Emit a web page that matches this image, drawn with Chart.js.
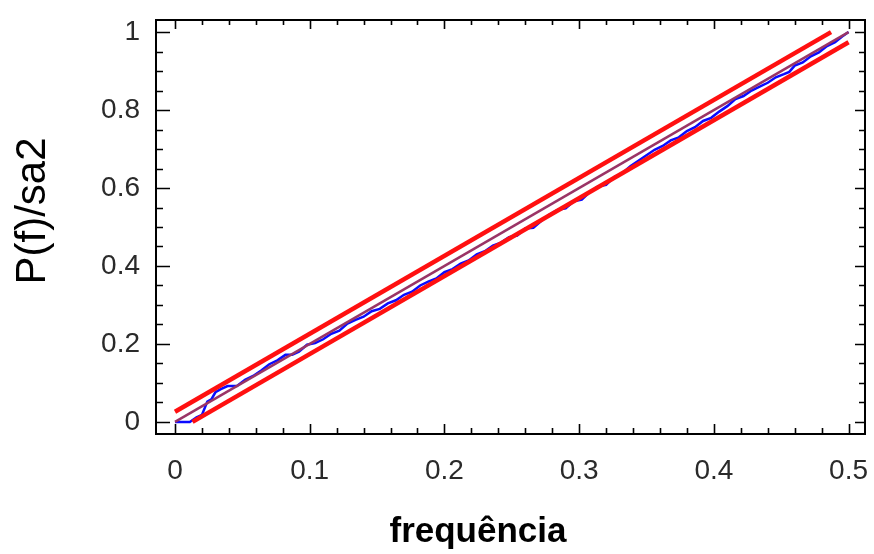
<!DOCTYPE html>
<html>
<head>
<meta charset="utf-8">
<script src="https://cdn.jsdelivr.net/npm/chart.js@4/dist/chart.umd.min.js"></script>
<style>
  html, body { margin: 0; padding: 0; background: #fff; }
  #wrap { width: 874px; height: 554px; }
</style>
</head>
<body>
<div id="wrap"><canvas id="c" width="874" height="554"></canvas></div>
<script>
// Cumulative periodogram of the residuals, P(f)/sa2 against frequency
const freq = [
  0.000, 0.006, 0.011, 0.016, 0.020, 0.024, 0.027, 0.030, 0.034, 0.039,
  0.046, 0.052, 0.058, 0.064, 0.070, 0.076, 0.082, 0.087, 0.092, 0.098,
  0.104, 0.110, 0.116, 0.122, 0.128, 0.134, 0.140, 0.146, 0.152, 0.158,
  0.164, 0.170, 0.176, 0.182, 0.188, 0.194, 0.200, 0.206, 0.212, 0.218,
  0.224, 0.230, 0.236, 0.242, 0.248, 0.254, 0.260, 0.266, 0.272, 0.278,
  0.284, 0.290, 0.296, 0.302, 0.308, 0.314, 0.320, 0.326, 0.332, 0.338,
  0.344, 0.350, 0.356, 0.362, 0.368, 0.374, 0.380, 0.386, 0.392, 0.398,
  0.404, 0.410, 0.416, 0.422, 0.428, 0.434, 0.440, 0.446, 0.452, 0.456,
  0.460, 0.466, 0.472, 0.478, 0.484, 0.490, 0.495, 0.500
];
const cumPower = [
  0.000, 0.000, 0.000, 0.012, 0.018, 0.052, 0.058, 0.076, 0.084, 0.092,
  0.092, 0.108, 0.118, 0.132, 0.148, 0.158, 0.172, 0.172, 0.180, 0.198,
  0.202, 0.212, 0.226, 0.234, 0.252, 0.262, 0.270, 0.284, 0.290, 0.304,
  0.312, 0.326, 0.334, 0.350, 0.360, 0.368, 0.384, 0.392, 0.406, 0.414,
  0.430, 0.438, 0.452, 0.460, 0.474, 0.478, 0.496, 0.498, 0.516, 0.532,
  0.544, 0.548, 0.566, 0.570, 0.590, 0.604, 0.608, 0.628, 0.638, 0.656,
  0.670, 0.684, 0.698, 0.708, 0.722, 0.730, 0.746, 0.756, 0.772, 0.780,
  0.796, 0.810, 0.828, 0.836, 0.850, 0.860, 0.870, 0.884, 0.892, 0.898,
  0.914, 0.922, 0.938, 0.948, 0.964, 0.974, 0.988, 1.000
];

// White-noise reference line and the two confidence limits
const refX = [0, 0.5];
const refY = [0, 1];
const upperX = [0, 0.487];
const upperY = [0.026, 1];
const lowerX = [0.013, 0.5];
const lowerY = [0, 0.974];

// Axis ticks
const xTicks = [0, 0.1, 0.2, 0.3, 0.4, 0.5];
const xTickLabels = ['0', '0.1', '0.2', '0.3', '0.4', '0.5'];
const yTicks = [0, 0.2, 0.4, 0.6, 0.8, 1];
const yTickLabels = ['0', '0.2', '0.4', '0.6', '0.8', '1'];
const xMinorStep = 0.02;
const yMinorStep = 0.05;

const xTitle = 'frequência';
const yTitle = 'P(f)/sa2';

const pts = (xs, ys) => xs.map((x, i) => ({ x: x, y: ys[i] }));

// Frame with inward ticks on all four sides, plus the axis titles
const framePlugin = {
  id: 'frame',
  afterDraw(chart) {
    const ctx = chart.ctx;
    const a = chart.chartArea;
    const xs = chart.scales.x, ys = chart.scales.y;
    ctx.save();
    ctx.strokeStyle = '#000';
    ctx.lineWidth = 2;
    ctx.strokeRect(a.left, a.top, a.right - a.left, a.bottom - a.top);
    ctx.lineWidth = 1.6;
    const eps = 1e-6;
    const isMajor = (v, arr) => arr.some(t => Math.abs(t - v) < eps);
    ctx.beginPath();
    for (let v = 0; v <= 0.5 + eps; v += xMinorStep) {
      const px = Math.round(xs.getPixelForValue(v)) + 0.5;
      const maj = isMajor(v, xTicks);
      ctx.moveTo(px, a.bottom); ctx.lineTo(px, a.bottom - (maj ? 10 : 6));
      ctx.moveTo(px, a.top); ctx.lineTo(px, a.top + (maj ? 9 : 5));
    }
    for (let v = 0; v <= 1 + eps; v += yMinorStep) {
      const py = Math.round(ys.getPixelForValue(v)) + 0.5;
      const maj = isMajor(v, yTicks);
      ctx.moveTo(a.left, py); ctx.lineTo(a.left + (maj ? 14 : 7), py);
      ctx.moveTo(a.right, py); ctx.lineTo(a.right - (maj ? 10 : 6), py);
    }
    ctx.stroke();

    ctx.fillStyle = '#000';
    ctx.textAlign = 'center';
    ctx.textBaseline = 'middle';
    ctx.font = 'bold 35px "Liberation Sans", Arial, sans-serif';
    ctx.fillText(xTitle, 478, 532);
    ctx.translate(33, 211);
    ctx.rotate(-Math.PI / 2);
    ctx.font = '42px "Liberation Sans", Arial, sans-serif';
    ctx.fillText(yTitle, 0, 0);
    ctx.restore();
  }
};

new Chart(document.getElementById('c'), {
  type: 'scatter',
  data: {
    datasets: [
      {
        label: 'limite superior',
        data: pts(upperX, upperY),
        showLine: true,
        borderColor: '#ff1010',
        borderWidth: 4.5,
        pointRadius: 0,
        order: 1
      },
      {
        label: 'limite inferior',
        data: pts(lowerX, lowerY),
        showLine: true,
        borderColor: '#ff1010',
        borderWidth: 4.5,
        pointRadius: 0,
        order: 1
      },
      {
        label: 'ruído branco',
        data: pts(refX, refY),
        showLine: true,
        borderColor: '#9a3466',
        borderWidth: 2.5,
        pointRadius: 0,
        order: 2
      },
      {
        label: 'P(f)/sa2',
        data: pts(freq, cumPower),
        showLine: true,
        borderColor: '#0a0aff',
        borderWidth: 2.5,
        pointRadius: 0,
        order: 3
      }
    ]
  },
  options: {
    responsive: false,
    animation: false,
    devicePixelRatio: 1,
    layout: { padding: { top: 20, right: 9, left: 0, bottom: 0 } },
    plugins: { legend: { display: false }, tooltip: { enabled: false } },
    scales: {
      x: {
        type: 'linear',
        min: -0.0141,
        max: 0.5122,
        afterFit(s) { s.height = 120; s.paddingLeft = 0; s.paddingRight = 0; },
        afterBuildTicks(s) { s.ticks = xTicks.map(v => ({ value: v })); },
        grid: { display: false, drawTicks: false },
        border: { display: false },
        ticks: {
          padding: 20,
          color: '#2a2a2a',
          font: { family: '"Liberation Sans", Arial, sans-serif', size: 28 },
          maxRotation: 0,
          autoSkip: false,
          callback: (v) => xTickLabels[xTicks.findIndex(t => Math.abs(t - v) < 1e-6)]
        }
      },
      y: {
        type: 'linear',
        min: -0.031,
        max: 1.031,
        afterFit(s) { s.width = 156; s.paddingTop = 0; s.paddingBottom = 0; },
        afterBuildTicks(s) { s.ticks = yTicks.map(v => ({ value: v })); },
        grid: { display: false, drawTicks: false },
        border: { display: false },
        ticks: {
          padding: 16,
          color: '#2a2a2a',
          font: { family: '"Liberation Sans", Arial, sans-serif', size: 28 },
          autoSkip: false,
          callback: (v) => yTickLabels[yTicks.findIndex(t => Math.abs(t - v) < 1e-6)]
        }
      }
    }
  },
  plugins: [framePlugin]
});
</script>
</body>
</html>
